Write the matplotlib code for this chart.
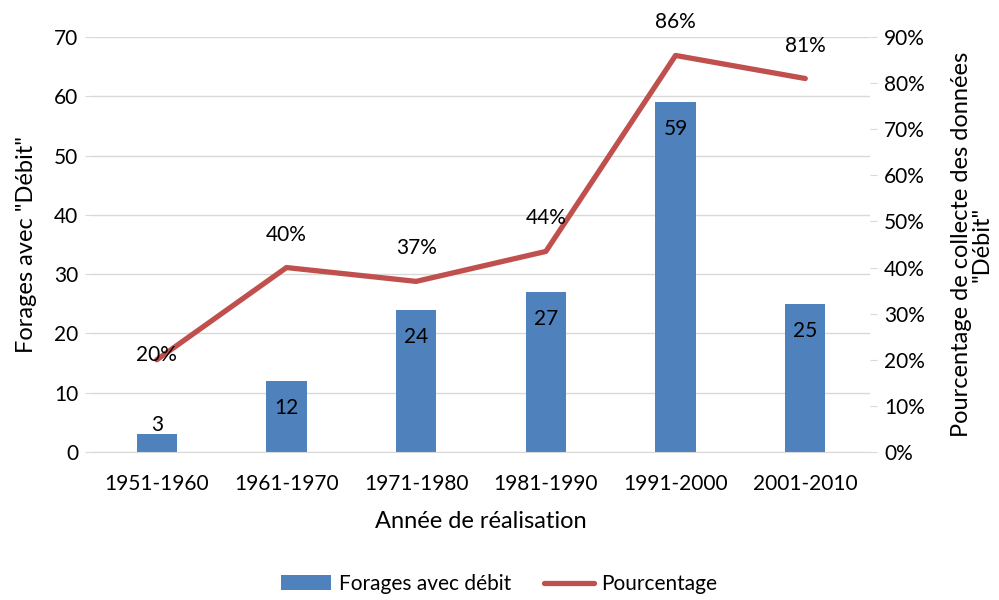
import numpy as np
import matplotlib
matplotlib.use("Agg")
import matplotlib.pyplot as plt
from matplotlib.ticker import FuncFormatter

plt.rcParams["font.family"] = ["Lato", "DejaVu Sans"]

# --- data -------------------------------------------------------------------
periods = ["1951-1960", "1961-1970", "1971-1980", "1981-1990", "1991-2000", "2001-2010"]
forages = [3, 12, 24, 27, 59, 25]
pourcentage = [20, 40, 37, 43.5, 86, 81]
pct_labels = ["20%", "40%", "37%", "44%", "86%", "81%"]

C_BAR = "#4F81BD"
C_LINE = "#C0504D"
C_GRID = "#D9D9D9"
FS = 15
FS_LAB = 17

fig = plt.figure(figsize=(9.99, 6.0), dpi=100)
ax = fig.add_axes([0.092, 0.2467, 0.779, 0.6916])
ax2 = ax.twinx()

x = np.arange(len(periods))
ax.bar(x, forages, width=0.31, color=C_BAR, zorder=2, label="Forages avec débit")
ax.set_xlim(-0.5, len(periods) - 0.5)
ax.set_ylim(0, 70)
ax.set_yticks(np.arange(0, 71, 10))
ax.yaxis.grid(True, color=C_GRID, linewidth=1.0, zorder=0)
ax.set_axisbelow(True)

# bar value labels: inside end, clamped to stay above the base
px_per_unit = ax.get_position().height * fig.get_figheight() * fig.dpi / 70
for xi, v in zip(x, forages):
    h_px = v * px_per_unit
    c_px = max(h_px - 27, 27)
    ax.text(xi, c_px / px_per_unit, str(v), ha="center", va="center",
            fontsize=FS, color="black", zorder=4)

ax2.plot(x, pourcentage, color=C_LINE, linewidth=3.8, solid_capstyle="round",
         zorder=3, label="Pourcentage")
ax2.set_ylim(0, 90)
ax2.set_yticks(np.arange(0, 91, 10))
ax2.yaxis.set_major_formatter(FuncFormatter(lambda v, p: f"{v:.0f}%"))
for i, (xi, v, lab) in enumerate(zip(x, pourcentage, pct_labels)):
    off = 5 if i == 0 else 33
    ax2.annotate(lab, (xi, v), xytext=(0, off), textcoords="offset pixels",
                 ha="center", va="center", fontsize=FS)

for a in (ax, ax2):
    for s in a.spines.values():
        s.set_visible(False)
    a.tick_params(axis="y", length=5, color=C_GRID, labelsize=FS, pad=5)
ax.spines["bottom"].set_visible(True)
ax.spines["bottom"].set_color(C_GRID)
ax.tick_params(axis="x", length=0, labelsize=FS, pad=16)
ax.set_xticks(x)
ax.set_xticklabels(periods)

ax.set_xlabel("Année de réalisation", fontsize=FS_LAB, labelpad=12)
ax.set_ylabel('Forages avec "Débit"', fontsize=FS_LAB, labelpad=12)
ax2.set_ylabel('Pourcentage de collecte des données\n"Débit"', fontsize=FS_LAB,
               labelpad=19, linespacing=0.95)

h1, l1 = ax.get_legend_handles_labels()
h2, l2 = ax2.get_legend_handles_labels()
fig.legend(h1 + h2, l1 + l2, loc="center", bbox_to_anchor=(0.5, 0.027), ncol=2,
           frameon=False, fontsize=FS, handlelength=2.4, columnspacing=1.6,
           handletextpad=0.35)

fig.savefig("out.png", dpi=100)
